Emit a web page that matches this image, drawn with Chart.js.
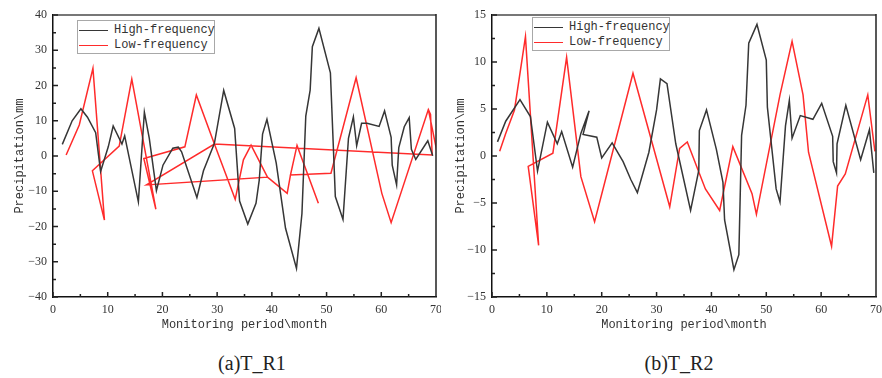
<!DOCTYPE html>
<html>
<head>
<meta charset="utf-8">
<script src="https://cdn.jsdelivr.net/npm/chart.js@4.4.0/dist/chart.umd.min.js"></script>
<style>
  body { margin: 0; background: #fff; }
  #wrap { position: relative; width: 882px; height: 378px; overflow: hidden; }
  .clip { position: absolute; top: 0; height: 336px; overflow: hidden; }
  .legend { position: absolute; width: 138px; height: 34px; box-sizing: border-box;
    border: 1px solid #a8a8a8; background: #fff; color: #333;
    font: 12px "Liberation Mono", monospace; }
  .row { position: absolute; left: 0; height: 15px; line-height: 15px; padding-left: 36px; white-space: nowrap; }
  .swatch { position: absolute; left: 1px; top: 7px; width: 29px; border-top: 1.5px solid; }
  .caption { position: absolute; top: 352px; width: 200px; text-align: center;
    font: 20px "Liberation Serif", serif; color: #222; }
</style>
</head>
<body>
<div id="wrap">
  <div class="clip" style="left:0; width:441px"><canvas id="chartR1" width="448" height="336"></canvas></div>
  <div class="clip" style="left:441px; width:441px"><canvas id="chartR2" width="447" height="336"></canvas></div>
  <div id="legendR1" class="legend" style="left:77px; top:20px"></div>
  <div id="legendR2" class="legend" style="left:532px; top:17px"></div>
  <div class="caption" style="left:152px">(a)T_R1</div>
  <div class="caption" style="left:579px">(b)T_R2</div>
</div>
<script>
const seriesNames = ['High-frequency', 'Low-frequency'];
const seriesColors = ['#363636', '#ff2b2b'];

// T_R1, [month, mm]
const highR1 = [
  [1.7, 3.3], [3.5, 10], [5.1, 13.4], [6.3, 11], [7.8, 6.6], [8.7, -4.4], [10.1, 2.6], [11.0, 8.5],
  [12.6, 3.4], [13.1, 5.7], [15.6, -13], [16.7, 12.4], [17.6, 5], [18.9, -9.8], [20.1, -2.6],
  [21.9, 2.2], [22.9, 2.5], [23.5, 1.2], [26.3, -11.8], [27.5, -4.2], [29.5, 3.6], [31.2, 18.6],
  [33.2, 7.8], [34.1, -12.8], [35.6, -19.3], [37.1, -13.4], [37.7, -6.8], [38.3, 6.2], [39.1, 10.4],
  [40.8, -2], [42.5, -20.5], [44.5, -31.9], [45.5, -16.3], [46.2, 11.3], [47.0, 18.7], [47.4, 31],
  [48.6, 36.2], [50.7, 23.6], [51.6, -11.5], [53.0, -18.0], [54.0, 5], [54.9, 11.1], [55.5, 2.9],
  [56.4, 9.3], [57.4, 9.3], [59.6, 8.4], [60.6, 12.8], [61.8, 5.3], [62.0, -2.6], [62.8, -8.2],
  [63.2, 2.4], [64.2, 8.3], [65.1, 10.9], [65.5, 1.9], [66.3, -1], [68.5, 4.3], [69.4, 0.1]
];
// low-frequency record is not in time order; [null, null] marks a break
const lowR1 = [
  [2.4, 0.3], [4.8, 8.8], [7.3, 24.9], [9.4, -18.2], [7.2, -4.2], [12.1, 2.8], [14.4, 21.8],
  [18.8, -15.1], [16.6, -0.7], [24.1, 2.6], [26.2, 17.3], [29.5, 3.4], [33.3, -12.3], [34.8, -1.1],
  [36.2, 3.1], [39.2, -6.0], [17.1, -8.2], [29.5, 3.4], [69.3, 0.3], [69.0, 11.8], [68.6, 13.2],
  [61.8, -18.9], [60.1, -10.6], [55.4, 22.2], [50.8, -4.9], [43.4, -5.4], [44.6, 3.0], [48.5, -13.4],
  [null, null],
  [39.2, -6.0], [42.8, -10.6], [43.4, -5.4],
  [null, null],
  [68.6, 13.2], [70.8, -3.5]
];

// T_R2, [month, mm]
const highR2 = [
  [1.0, 1.5], [2.5, 3.7], [5.1, 6.0], [7.0, 4.2], [8.3, -1.6], [10.1, 3.6], [11.9, 1.3], [12.7, 2.6],
  [14.7, -1.2], [16.2, 2.4], [17.7, 4.8], [16.6, 2.3], [19.1, 2.0], [20.0, -0.2], [21.9, 1.4],
  [23.9, -0.6], [25.3, -2.5], [26.5, -3.9], [28.6, 0.4], [30.0, 4.9], [30.7, 8.2], [31.9, 7.7],
  [33.5, 1.3], [36.2, -5.8], [37.7, -1.5], [37.8, 2.7], [39.1, 4.9], [40.9, 0.7], [42.1, -2.8],
  [42.4, -6.8], [44.1, -12.1], [45.0, -10.5], [45.5, 2.2], [46.3, 5.4], [46.8, 12.0], [48.3, 14.0],
  [50.0, 10.2], [50.2, 5.2], [51.8, -3.5], [52.5, -4.9], [53.5, 3.2], [54.2, 5.9], [54.7, 1.9],
  [56.2, 4.3], [58.5, 3.9], [60.1, 5.6], [62.1, 2.1], [62.2, -0.6], [62.8, -1.8], [62.9, 1.3],
  [64.5, 5.4], [67.2, -0.4], [68.8, 2.8], [69.6, -1.8]
];
const lowR2 = [
  [1.4, 0.5], [2.5, 2.4], [4.1, 4.9], [6.1, 12.7], [8.5, -9.5], [6.6, -1.1], [11.1, 0.3],
  [13.6, 10.5], [16.2, -2.2], [18.7, -7.0], [25.7, 8.8], [32.4, -5.4], [34.2, 0.8], [35.6, 1.5],
  [37.7, -1.7], [38.9, -3.5], [41.5, -5.8], [43.9, 1.0], [47.4, -4.0], [48.2, -6.2], [52.5, 6.5],
  [54.7, 12.2], [56.7, 6.5], [57.7, 0.4], [61.9, -9.6], [63.0, -3.2], [64.4, -1.9], [68.5, 6.5],
  [69.8, 0.5]
];

const xTitle = 'Monitoring period\\month';
const yTitle = 'Precipitation\\mm';

// box edges on top/right plus short inward tick marks on the axes
const frame = {
  id: 'frame',
  afterDraw(chart, args, o) {
    const {ctx, chartArea: a, scales: {x, y}} = chart;
    ctx.save();
    ctx.strokeStyle = '#777';
    ctx.lineWidth = 2;
    ctx.beginPath();
    ctx.moveTo(a.left, a.top); ctx.lineTo(a.right, a.top);
    ctx.stroke();
    ctx.strokeStyle = '#222';
    ctx.lineWidth = 1.5;
    ctx.beginPath();
    ctx.moveTo(a.right, a.top - 1); ctx.lineTo(a.right, a.bottom);
    const nx = Math.round((x.max - x.min) / o.xMinor);
    for (let i = 0; i <= nx; i++) {
      const px = x.getPixelForValue(x.min + i * o.xMinor);
      const len = i % 2 === 0 ? 5 : 3;
      ctx.moveTo(px, a.bottom); ctx.lineTo(px, a.bottom - len);
    }
    const ny = Math.round((y.max - y.min) / o.yMinor);
    for (let i = 0; i <= ny; i++) {
      const py = y.getPixelForValue(y.min + i * o.yMinor);
      const len = i % 2 === 0 ? 5 : 3;
      ctx.moveTo(a.left, py); ctx.lineTo(a.left + len, py);
    }
    ctx.stroke();
    ctx.restore();
  }
};

const tickFont = {family: '"Liberation Serif", serif', size: 12};
const titleFont = {family: '"Liberation Mono", monospace', size: 12};
const minus = v => String(v).replace('-', '\u2212');

function toPoints(list) {
  return list.map(p => ({x: p[0], y: p[1]}));
}

function makePanel(id, high, low, yMin, yMax, yStep, axisWidth) {
  return new Chart(document.getElementById(id), {
    type: 'line',
    data: {
      datasets: [high, low].map((pts, i) => ({
        label: seriesNames[i],
        data: toPoints(pts),
        borderColor: seriesColors[i],
        borderWidth: 1.5,
        pointRadius: 0,
        tension: 0,
        spanGaps: false
      }))
    },
    options: {
      responsive: false,
      animation: false,
      layout: {padding: {top: 15, right: 0, left: 0, bottom: 0}},
      plugins: {
        legend: {display: false},
        tooltip: {enabled: false},
        frame: {xMinor: 5, yMinor: yStep / 2}
      },
      scales: {
        x: {
          type: 'linear', min: 0, max: 70,
          grid: {display: false, drawTicks: false},
          border: {display: true, color: '#111', width: 1.5},
          ticks: {stepSize: 10, padding: 6, color: '#333', font: tickFont, maxRotation: 0},
          title: {display: true, text: xTitle, color: '#333', font: titleFont, padding: {top: 0, bottom: 4}},
          afterFit(s) { s.height = 39; }
        },
        y: {
          min: yMin, max: yMax,
          grid: {display: false, drawTicks: false},
          border: {display: true, color: '#111', width: 1.5},
          ticks: {stepSize: yStep, padding: 6, color: '#333', font: tickFont, callback: minus},
          title: {display: true, text: yTitle, color: '#333', font: titleFont, padding: {top: 13, bottom: 0}},
          afterFit(s) { s.width = axisWidth; }
        }
      }
    },
    plugins: [frame]
  });
}

function buildLegend(id) {
  const box = document.getElementById(id);
  seriesNames.forEach((name, i) => {
    const row = document.createElement('div');
    row.className = 'row';
    row.style.top = (1.5 + i * 15.5) + 'px';
    row.innerHTML = '<span class="swatch" style="border-color:' + seriesColors[i] + '"></span>' + name;
    box.appendChild(row);
  });
}

makePanel('chartR1', highR1, lowR1, -40, 40, 10, 53);
makePanel('chartR2', highR2, lowR2, -15, 15, 5, 51);
buildLegend('legendR1');
buildLegend('legendR2');
</script>
</body>
</html>
